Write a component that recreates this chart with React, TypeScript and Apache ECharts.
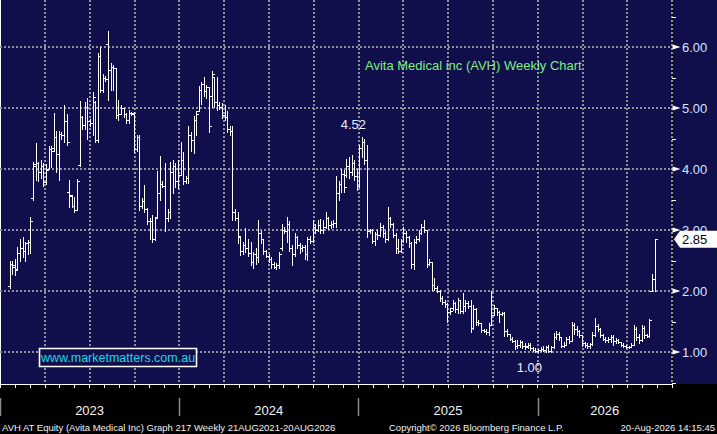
import React, { useEffect, useRef } from "react";
import * as echarts from "echarts";

// Weekly bars, each row is [open, high, low, close]
const OHLC_2023: number[][] = [
  [2.08, 2.5, 2.05, 2.45], [2.45, 2.5, 2.28, 2.42], [2.4, 2.52, 2.27, 2.35], [2.36, 2.72, 2.35, 2.62],
  [2.62, 2.86, 2.5, 2.7], [2.7, 2.88, 2.55, 2.66], [2.66, 2.8, 2.5, 2.78], [2.78, 2.84, 2.6, 2.8],
  [2.8, 3.22, 2.62, 3.15], [3.52, 4.11, 3.5, 4.05], [4.08, 4.43, 3.82, 4.1], [4.1, 4.12, 3.8, 3.95],
  [3.95, 4.15, 3.85, 4.05], [4.05, 4.1, 3.72, 3.78], [3.78, 4.08, 3.75, 3.98], [4.0, 4.38, 4.0, 4.32],
  [4.32, 4.38, 4.03, 4.3], [4.35, 4.92, 4.3, 4.52], [4.52, 4.62, 3.95, 4.25], [4.25, 4.62, 3.82, 4.58],
  [4.58, 4.6, 4.5, 4.55], [4.55, 5.05, 4.45, 4.78], [4.78, 4.9, 4.4, 4.45], [3.62, 3.82, 3.38, 3.58],
  [3.55, 3.58, 3.38, 3.4], [3.4, 3.54, 3.3, 3.33], [3.33, 3.84, 3.32, 3.8], [4.06, 5.12, 4.05, 4.85],
  [4.85, 4.87, 4.65, 4.72], [4.72, 5.1, 4.66, 5.02], [5.02, 5.16, 4.49, 4.78], [4.78, 4.82, 4.7, 4.75],
  [4.75, 5.26, 4.56, 5.18], [5.1, 5.12, 4.45, 4.48], [4.48, 5.9, 4.44, 5.85], [5.85, 6.0, 5.26, 5.3],
  [5.3, 5.55, 5.26, 5.5], [5.5, 5.52, 5.45, 5.48], [6.05, 6.26, 5.13, 5.62], [5.62, 5.74, 5.3, 5.68],
  [5.68, 5.7, 5.3, 5.65], [5.65, 5.65, 4.83, 4.88], [4.88, 5.13, 4.8, 4.9], [4.9, 5.05, 4.9, 5.0],
  [5.0, 5.0, 4.85, 4.9], [4.9, 4.92, 4.75, 4.8], [4.8, 4.97, 4.75, 4.92], [4.92, 4.93, 4.88, 4.9],
  [4.92, 4.93, 4.28, 4.32], [4.32, 4.56, 4.3, 4.52], [4.52, 4.56, 3.33, 3.4], [3.4, 3.52, 3.36, 3.48],
  [3.48, 3.74, 3.3, 3.35], [3.35, 3.36, 3.1, 3.14], [3.14, 3.2, 2.86, 3.15], [3.15, 3.25, 2.81, 2.85],
  [2.85, 3.22, 2.84, 3.2], [3.22, 3.97, 3.21, 3.6], [3.6, 4.22, 3.5, 3.75], [3.75, 3.8, 3.7, 3.72],
  [3.72, 4.1, 2.98, 3.2], [3.2, 3.35, 3.15, 3.3], [3.3, 4.12, 3.2, 3.95], [3.95, 4.15, 3.6, 4.05],
  [4.05, 4.1, 3.7, 3.8], [3.8, 4.14, 3.69, 3.9],
];

const OHLC_2024: number[][] = [
  [3.9, 4.45, 3.9, 4.15], [4.15, 4.28, 3.76, 3.8], [3.8, 3.88, 3.77, 3.85], [3.85, 4.7, 3.77, 4.55],
  [4.55, 4.6, 4.3, 4.48], [4.48, 4.87, 4.27, 4.8], [4.8, 4.95, 4.56, 4.9], [4.95, 5.36, 4.95, 5.3],
  [5.3, 5.43, 5.07, 5.4], [5.4, 5.51, 5.2, 5.28], [5.28, 5.38, 5.16, 5.35], [5.35, 5.35, 4.61, 4.7],
  [5.2, 5.61, 5.02, 5.55], [5.51, 5.51, 5.02, 5.1], [5.1, 5.51, 4.97, 5.05], [5.05, 5.1, 4.98, 5.02],
  [5.02, 5.08, 4.83, 4.88], [4.88, 5.05, 4.8, 4.85], [4.85, 4.95, 4.61, 4.65], [4.65, 4.7, 4.56, 4.62],
  [4.62, 4.7, 3.16, 3.3], [3.3, 3.35, 3.16, 3.2], [3.2, 3.3, 2.78, 2.9], [2.88, 2.89, 2.59, 2.65],
  [2.65, 2.8, 2.6, 2.75], [2.75, 3.03, 2.64, 2.7], [2.7, 2.86, 2.58, 2.62], [2.62, 2.81, 2.43, 2.48],
  [2.48, 2.64, 2.37, 2.6], [2.6, 2.7, 2.45, 2.55], [2.55, 3.16, 2.48, 2.95], [2.95, 2.98, 2.78, 2.85],
  [2.85, 2.86, 2.6, 2.65], [2.65, 2.68, 2.55, 2.58], [2.58, 2.6, 2.48, 2.52], [2.52, 2.55, 2.37, 2.45],
  [2.45, 2.48, 2.37, 2.4], [2.4, 2.46, 2.36, 2.42], [2.42, 2.64, 2.37, 2.6], [2.7, 3.1, 2.67, 3.0],
  [3.0, 3.05, 2.95, 2.98], [2.98, 3.21, 2.81, 3.1], [3.1, 3.15, 2.65, 2.7], [2.7, 2.75, 2.43, 2.6],
  [2.6, 2.95, 2.58, 2.88], [2.88, 2.9, 2.7, 2.75], [2.75, 2.78, 2.62, 2.7], [2.7, 2.76, 2.65, 2.72],
  [2.72, 2.75, 2.52, 2.6], [2.6, 2.89, 2.51, 2.85], [2.85, 2.9, 2.78, 2.82], [2.82, 3.16, 2.8, 3.05],
  [3.05, 3.1, 2.95, 3.0], [3.0, 3.16, 2.98, 3.08], [3.08, 3.18, 2.95, 3.0], [3.0, 3.16, 2.95, 3.05],
  [3.05, 3.3, 3.03, 3.2], [3.2, 3.22, 3.02, 3.08], [3.08, 3.15, 3.03, 3.1], [3.1, 3.16, 3.05, 3.12],
  [3.12, 3.88, 3.05, 3.6], [3.6, 3.8, 3.5, 3.75], [3.75, 4.0, 3.63, 3.92], [3.92, 3.98, 3.63, 3.7],
  [3.9, 4.17, 3.87, 4.05], [4.05, 4.2, 3.85, 3.95], [3.95, 4.23, 3.9, 4.1], [4.1, 4.15, 3.82, 3.88],
  [3.88, 4.0, 3.66, 3.72],
];

const OHLC_2025: number[][] = [
  [3.72, 4.39, 3.7, 4.35], [4.35, 4.52, 4.2, 4.45], [4.45, 4.5, 4.09, 4.15], [4.15, 4.39, 2.89, 2.98],
  [2.98, 3.02, 2.95, 3.0], [3.0, 3.02, 2.78, 2.82], [2.82, 2.96, 2.75, 2.94], [2.94, 3.0, 2.85, 2.92],
  [2.92, 3.11, 2.9, 3.05], [3.05, 3.08, 2.88, 2.95], [2.95, 2.98, 2.8, 2.85], [2.85, 3.38, 2.84, 3.2],
  [3.2, 3.22, 3.05, 3.1], [3.1, 3.12, 2.88, 2.92], [2.92, 2.95, 2.62, 2.7], [2.7, 2.85, 2.62, 2.66],
  [2.66, 2.86, 2.64, 2.82], [2.82, 3.05, 2.8, 2.95], [2.95, 2.98, 2.8, 2.88], [2.88, 2.9, 2.72, 2.78],
  [2.78, 2.8, 2.37, 2.45], [2.45, 2.85, 2.36, 2.8], [2.8, 2.9, 2.78, 2.85], [2.85, 3.0, 2.82, 2.95],
  [2.95, 3.1, 2.94, 3.05], [3.05, 3.16, 2.97, 3.0], [3.0, 3.0, 2.4, 2.45], [2.45, 2.52, 2.42, 2.48],
  [2.48, 2.48, 2.02, 2.1], [2.1, 2.21, 2.02, 2.05], [2.05, 2.08, 1.98, 2.0], [2.0, 2.02, 1.83, 1.88],
  [1.88, 1.92, 1.78, 1.82], [1.82, 1.85, 1.74, 1.78], [1.78, 1.8, 1.5, 1.65], [1.65, 1.72, 1.62, 1.68],
  [1.72, 1.86, 1.69, 1.8], [1.8, 1.82, 1.66, 1.7], [1.7, 1.88, 1.64, 1.85], [1.85, 1.86, 1.64, 1.68],
  [1.68, 1.97, 1.64, 1.75], [1.75, 1.86, 1.68, 1.8], [1.8, 1.84, 1.72, 1.76], [1.76, 1.86, 1.33, 1.4],
  [1.4, 1.77, 1.38, 1.7], [1.7, 1.72, 1.45, 1.5], [1.5, 1.52, 1.45, 1.47], [1.47, 1.48, 1.33, 1.36],
  [1.36, 1.38, 1.33, 1.35], [1.35, 1.38, 1.3, 1.33], [1.33, 1.48, 1.28, 1.45], [1.45, 2.0, 1.45, 1.6],
  [1.6, 1.77, 1.6, 1.72], [1.72, 1.72, 1.61, 1.65], [1.65, 1.68, 1.5, 1.62], [1.62, 1.66, 1.6, 1.64],
  [1.64, 1.66, 1.27, 1.35], [1.35, 1.38, 1.27, 1.3], [1.3, 1.3, 1.2, 1.22], [1.22, 1.25, 1.16, 1.18],
  [1.18, 1.19, 1.05, 1.1], [1.1, 1.19, 1.06, 1.12], [1.12, 1.2, 1.08, 1.16], [1.16, 1.18, 1.06, 1.1],
  [1.1, 1.14, 1.05, 1.08], [1.1, 1.15, 1.07, 1.12], [1.12, 1.15, 1.04, 1.06], [1.06, 1.08, 1.02, 1.04],
  [1.04, 1.06, 1.0, 1.02],
];

const OHLC_2026: number[][] = [
  [1.02, 1.05, 1.0, 1.03], [1.03, 1.08, 1.01, 1.05], [1.05, 1.1, 1.02, 1.04], [1.04, 1.1, 1.0, 1.08],
  [1.08, 1.12, 1.0, 1.02], [1.02, 1.1, 1.0, 1.08], [1.08, 1.31, 1.07, 1.25], [1.25, 1.34, 1.22, 1.3],
  [1.3, 1.32, 1.2, 1.24], [1.24, 1.24, 1.08, 1.1], [1.1, 1.16, 1.08, 1.12], [1.12, 1.25, 1.12, 1.22],
  [1.22, 1.26, 1.14, 1.18], [1.18, 1.5, 1.18, 1.45], [1.45, 1.48, 1.3, 1.38], [1.38, 1.42, 1.28, 1.35],
  [1.35, 1.36, 1.25, 1.28], [1.28, 1.28, 1.1, 1.14], [1.14, 1.17, 1.08, 1.12], [1.12, 1.15, 1.07, 1.1],
  [1.1, 1.15, 1.07, 1.13], [1.13, 1.33, 1.12, 1.28], [1.28, 1.55, 1.27, 1.42], [1.42, 1.46, 1.34, 1.38],
  [1.38, 1.4, 1.25, 1.28], [1.28, 1.3, 1.2, 1.22], [1.22, 1.25, 1.17, 1.2], [1.2, 1.24, 1.17, 1.22],
  [1.22, 1.28, 1.17, 1.25], [1.25, 1.28, 1.11, 1.18], [1.18, 1.23, 1.14, 1.2], [1.2, 1.22, 1.14, 1.16],
  [1.16, 1.17, 1.1, 1.12], [1.12, 1.14, 1.09, 1.1], [1.1, 1.11, 1.06, 1.08], [1.08, 1.1, 1.06, 1.09],
  [1.09, 1.14, 1.08, 1.12], [1.12, 1.44, 1.11, 1.38], [1.38, 1.41, 1.2, 1.25], [1.25, 1.3, 1.14, 1.2],
  [1.2, 1.44, 1.18, 1.4], [1.4, 1.42, 1.23, 1.28], [1.28, 1.3, 1.25, 1.27], [1.27, 1.54, 1.25, 1.52],
  [2.0, 2.28, 2.0, 2.19], [2.19, 2.85, 2.0, 2.85],
];

const Y_LABELS = [1, 2, 3, 4, 5, 6];
const Y_MINOR_TICKS = [0.5, 1.5, 2.5, 3.5, 4.5, 5.5, 6.5];
const YEARS = [2023, 2024, 2025, 2026];
const YEAR_START_MONTHS = [0, 12, 24, 36]; // months since 1 Jan 2023

const TITLE = "Avita Medical inc (AVH) Weekly Chart";
const WATERMARK = "www.marketmatters.com.au";
const FOOTER_LEFT = "AVH AT Equity (Avita Medical Inc) Graph 217 Weekly 21AUG2021-20AUG2026";
const FOOTER_MID = "Copyright\u00A9 2026 Bloomberg Finance L.P.";
const FOOTER_RIGHT = "20-Aug-2026 14:15:45";

// ---- derived ----
const ALL = [...OHLC_2023, ...OHLC_2024, ...OHLC_2025, ...OHLC_2026];
const N = ALL.length;
const X_MAX_MONTH = 45;
const FIRST_BAR_MONTH = 0.648;
const LAST_BAR_MONTH = 43.83;
const barMonth = (i: number) => FIRST_BAR_MONTH + (i * (LAST_BAR_MONTH - FIRST_BAR_MONTH)) / (N - 1);
const Y_MIN = 1 - 32 / 61;
const Y_MAX = 6 + 47 / 61;

const start2025 = OHLC_2023.length + OHLC_2024.length;
let peakIdx = start2025;
for (let i = start2025; i < start2025 + OHLC_2025.length; i++) if (ALL[i][1] > ALL[peakIdx][1]) peakIdx = i;
let lowIdx = 0;
for (let i = 0; i < N; i++) if (ALL[i][2] < ALL[lowIdx][2]) lowIdx = i;
const LAST_CLOSE = ALL[N - 1][3];

const NAVY = "#100f4b";
const GRID_C = "#8f8f9e";
const LABEL_C = "#d8e3ff";
const FONT = "'Liberation Sans', Arial, Helvetica, sans-serif";

function txt(text: string, x: number, y: number, fill: string, size: number, align = "left") {
  return {
    text, x, y, fill, font: `${size}px ${FONT}`,
    align, verticalAlign: "middle", textAlign: align, textVerticalAlign: "middle",
  };
}

function buildOption(): any {
  const ohlcData = ALL.map((r, i) => [barMonth(i), r[0], r[1], r[2], r[3]]);
  const annots = [
    { d: [barMonth(peakIdx), ALL[peakIdx][1]], dx: -8.5, dy: -13 },
    { d: [barMonth(lowIdx), ALL[lowIdx][2]], dx: -6, dy: 15 },
  ];

  return {
    animation: false,
    backgroundColor: "#000000",
    grid: { show: true, left: -8.3, right: 45, top: 0, bottom: 50, backgroundColor: NAVY, borderWidth: 0 },
    xAxis: {
      type: "value", min: 0, max: X_MAX_MONTH, interval: 3,
      axisLine: { show: true, lineStyle: { color: "#ffffff", width: 1 } },
      axisTick: { show: true, length: 4, lineStyle: { color: "#ffffff" } },
      minorTick: { show: true, splitNumber: 3, length: 4, lineStyle: { color: "#ffffff" } },
      axisLabel: { show: false },
      splitLine: { show: true, lineStyle: { color: GRID_C, width: 2, type: [2, 2] } },
    },
    yAxis: {
      type: "value", position: "right", min: Y_MIN, max: Y_MAX,
      axisLine: { show: true, lineStyle: { color: "#ffffff", width: 1 } },
      axisTick: { show: false }, axisLabel: { show: false }, splitLine: { show: false },
    },
    graphic: {
      elements: [
        { type: "rect", z: -5, shape: { x: 673, y: 0, width: 44, height: 384 }, style: { fill: NAVY } },
        { type: "text", z: 10, style: txt(TITLE, 365, 65, "#7ded7d", 13) },
        { type: "rect", z: 10, shape: { x: 39.5, y: 348.5, width: 157, height: 18 }, style: { fill: NAVY, stroke: "#ffffff", lineWidth: 1.6 } },
        { type: "text", z: 11, style: txt(WATERMARK, 118, 358, "#1ad6e8", 12.5, "center") },
        { type: "text", z: 10, style: txt(FOOTER_LEFT, 2, 427, "#f2f2f2", 9.5) },
        { type: "text", z: 10, style: txt(FOOTER_MID, 389, 427, "#f2f2f2", 9.5) },
        { type: "text", z: 10, style: txt(FOOTER_RIGHT, 715, 427, "#f2f2f2", 9.5, "right") },
      ],
    },
    series: [
      {
        type: "custom", name: "hgrid", clip: false, silent: true, z: 1,
        data: Y_LABELS.map((v) => [0, v]),
        encode: { x: 0, y: 1 },
        renderItem: (params: any, api: any) => {
          const v = api.value(1);
          const y = Math.round(api.coord([0, v])[1]);
          const cs = params.coordSys;
          const r = cs.x + cs.width;
          return {
            type: "group",
            children: [
              { type: "line", shape: { x1: cs.x, y1: y, x2: r, y2: y }, style: { stroke: GRID_C, lineWidth: 2, lineDash: [2, 2] } },
              { type: "polygon", shape: { points: [[r + 0.5, y - 2.5], [r + 0.5, y + 2.5], [r + 8.5, y]] }, style: { fill: "#ffffff" } },
              { type: "text", style: txt(v.toFixed(2), r + 10, y + 0.5, LABEL_C, 13) },
            ],
          };
        },
      },
      {
        type: "custom", name: "minorTicks", clip: false, silent: true, z: 1,
        data: Y_MINOR_TICKS.map((v) => [0, v]),
        encode: { x: 0, y: 1 },
        renderItem: (params: any, api: any) => {
          const y = Math.round(api.coord([0, api.value(1)])[1]) + 0.5;
          const cs = params.coordSys;
          const r = cs.x + cs.width;
          return { type: "line", shape: { x1: r, y1: y, x2: r + 4, y2: y }, style: { stroke: "#ffffff", lineWidth: 1 } };
        },
      },
      {
        type: "custom", name: "AVH", clip: false, silent: true, z: 3,
        data: ohlcData,
        encode: { x: 0, y: [1, 2, 3, 4] },
        renderItem: (params: any, api: any) => {
          const m = api.value(0);
          const pO = api.coord([m, api.value(1)]);
          const pH = api.coord([m, api.value(2)]);
          const pL = api.coord([m, api.value(3)]);
          const pC = api.coord([m, api.value(4)]);
          const x = Math.round(pH[0]) + 0.5;
          const yO = Math.round(pO[1]) + 0.5;
          const yC = Math.round(pC[1]) + 0.5;
          const st = { stroke: "#ffffff", lineWidth: 1 };
          return {
            type: "group",
            children: [
              { type: "line", shape: { x1: x, y1: Math.round(pH[1]), x2: x, y2: Math.round(pL[1]) + 1 }, style: st },
              { type: "line", shape: { x1: x - 2.5, y1: yO, x2: x, y2: yO }, style: st },
              { type: "line", shape: { x1: x, y1: yC, x2: x + 2.5, y2: yC }, style: st },
            ],
          };
        },
      },
      {
        type: "custom", name: "annotations", clip: false, silent: true, z: 4,
        data: annots.map((a) => a.d),
        encode: { x: 0, y: 1 },
        renderItem: (params: any, api: any) => {
          const a = annots[params.dataIndex];
          const p = api.coord([api.value(0), api.value(1)]);
          return { type: "text", style: txt(api.value(1).toFixed(2), p[0] + a.dx, p[1] + a.dy, "#e8eeff", 13, "center") };
        },
      },
      {
        type: "custom", name: "lastTag", clip: false, silent: true, z: 6,
        data: [[0, LAST_CLOSE]],
        encode: { x: 0, y: 1 },
        renderItem: (params: any, api: any) => {
          const y = api.coord([0, api.value(1)])[1];
          const cs = params.coordSys;
          const r = cs.x + cs.width;
          return {
            type: "group",
            children: [
              { type: "polygon", shape: { points: [[r + 2, y], [r + 8, y - 8.5], [717, y - 8.5], [717, y + 8.5], [r + 8, y + 8.5]] }, style: { fill: "#ffffff" } },
              { type: "text", style: txt(api.value(1).toFixed(2), r + 10, y + 0.5, "#000000", 13) },
            ],
          };
        },
      },
      {
        type: "custom", name: "years", clip: false, silent: true, z: 2,
        data: YEAR_START_MONTHS.map((m) => [m, Y_MIN]),
        encode: { x: 0, y: 1 },
        renderItem: (params: any, api: any) => {
          const m = api.value(0);
          const cs = params.coordSys;
          const xs = api.coord([m, Y_MIN])[0];
          const xe = api.coord([Math.min(m + 12, X_MAX_MONTH), Y_MIN])[0];
          const bottom = cs.y + cs.height;
          const cx = (Math.max(xs, 0) + Math.min(xe, cs.x + cs.width)) / 2;
          const sx = Math.round(xs) + 0.5;
          return {
            type: "group",
            children: [
              { type: "line", shape: { x1: sx, y1: bottom + 14, x2: sx, y2: bottom + 32 }, style: { stroke: "#8a8a8a", lineWidth: 1.5 } },
              { type: "text", style: txt(String(YEARS[params.dataIndex]), cx, bottom + 26.5, "#f4f4f4", 13, "center") },
            ],
          };
        },
      },
    ],
  };
}

export default function App() {
  const ref = useRef<HTMLDivElement>(null);
  useEffect(() => {
    if (!ref.current) return;
    const chart = echarts.init(ref.current, null, { renderer: "svg" });
    chart.setOption(buildOption());
    return () => chart.dispose();
  }, []);
  return <div ref={ref} style={{ position: "fixed", left: 0, top: 0, width: 717, height: 434 }} />;
}
